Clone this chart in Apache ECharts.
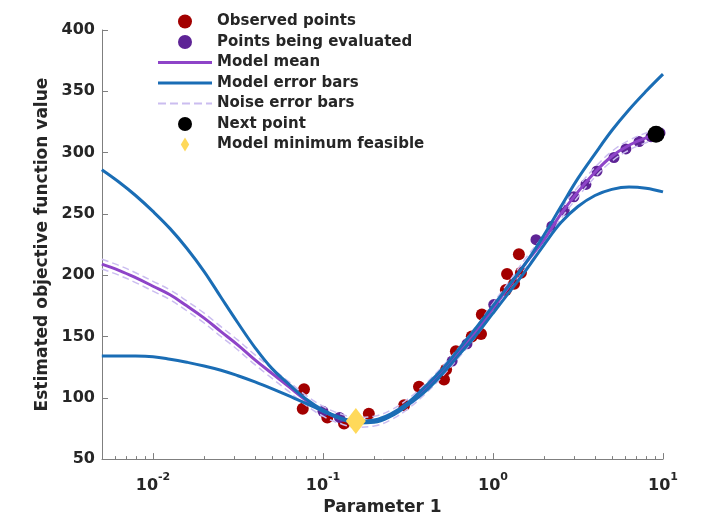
<!DOCTYPE html>
<html>
<head>
<meta charset="utf-8">
<script src="https://cdn.jsdelivr.net/npm/echarts@6/dist/echarts.min.js"></script>
<style>
  html, body { margin: 0; padding: 0; background: #fff; }
  #chart { width: 709px; height: 521px; }
</style>
</head>
<body>
<div id="chart"></div>
<script>
// x grid of the model curves (Parameter 1, log axis)
const curveX = [0.005, 0.0063, 0.0079, 0.01, 0.0126, 0.0158, 0.02, 0.0251, 0.0316, 0.0398,
  0.05, 0.0631, 0.0794, 0.1, 0.126, 0.158, 0.2, 0.251, 0.316, 0.398,
  0.5, 0.631, 0.794, 1, 1.26, 1.58, 2, 2.51, 3.16, 3.98, 5, 6.31, 7.94, 10];
const modelMean = [209, 204, 198, 191, 184, 175, 165, 154, 143, 131,
  120, 109, 98, 89, 83, 80, 81, 86, 95, 107,
  121, 137, 154, 173, 192, 211, 229, 250, 268, 284, 297, 306, 312, 316];
const errUpper = [286, 276, 265, 252, 238, 222, 203, 182, 161, 141,
  124, 111, 99, 90, 84, 81, 82, 87, 96, 109,
  123, 140, 157, 175, 193, 211, 233, 256, 279, 299, 318, 335, 350, 364];
const errLower = [134, 134, 134, 133.5, 131.5, 129, 126, 122.5, 118, 113,
  107.5, 101.5, 95.5, 89, 83, 79.5, 80, 85, 94, 105,
  119, 135, 151, 169, 187, 205, 225, 243, 256, 265, 270, 272, 271, 268];
const noiseUpper = [213, 208, 202, 195, 188, 179, 169, 158, 147, 135,
  124, 113, 102, 93, 87, 84, 85, 90, 99, 111,
  125, 141, 158, 177, 196, 215, 233, 254, 272, 288, 301, 310, 316, 320];
const noiseLower = [205, 200, 194, 187, 180, 171, 161, 150, 139, 127,
  116, 105, 94, 85, 79, 76, 77, 82, 91, 103,
  117, 133, 150, 169, 188, 207, 225, 246, 264, 280, 293, 302, 308, 312];

// observed points
const obsX = [0.0773, 0.076, 0.106, 0.133, 0.186, 0.30, 0.367, 0.515, 0.53, 0.605,
  0.75, 0.85, 0.86, 1.19, 1.21, 1.33, 1.46, 1.42];
const obsY = [107, 91, 84, 79, 87, 94, 109, 115, 123, 138,
  150, 152, 168, 188, 201, 193, 202, 217];

// points being evaluated
const evalX = [0.1, 0.125, 0.575, 0.703, 1.01, 1.79, 2.22, 2.62, 2.99, 3.52,
  4.09, 5.15, 6.05, 7.23, 8.5, 9.6];
const evalY = [89, 84, 130, 144, 176, 229, 240, 253, 264, 274,
  285, 296, 303, 309, 313, 316];

const nextX = [9.1];
const nextY = [315];
const minX = [0.156];
const minY = [81];

// axis ticks
const majorTicks = [-2, -1, 0, 1];   // exponents of 10
const minorTicks = [0.006, 0.007, 0.008, 0.009, 0.02, 0.03, 0.04, 0.05, 0.06, 0.07, 0.08, 0.09,
  0.2, 0.3, 0.4, 0.5, 0.6, 0.7, 0.8, 0.9, 2, 3, 4, 5, 6, 7, 8, 9];

const FONT = '"DejaVu Sans", sans-serif';
const TXT = '#262626';
const AXIS = '#7f7f7f';
const LINE_ICON = 'path://M0,0H54V3H0Z';
const DASH_ICON = 'path://M0,0H8V2H0Z M12,0H20V2H12Z M24,0H32V2H24Z M36,0H44V2H36Z M48,0H54V2H48Z';

function curve(ys) {
  return curveX.map((p, i) => [Math.log10(p), ys[i]]);
}
function pts(xs, ys) {
  return xs.map((p, i) => [Math.log10(p), ys[i]]);
}

const myChart = echarts.init(document.getElementById('chart'));

var option = {
  animation: false,
  legend: {
    orient: 'vertical',
    left: 153,
    top: 9,
    itemWidth: 54,
    itemHeight: 14,
    itemGap: 5.5,
    textStyle: { fontFamily: FONT, fontSize: 15, fontWeight: 'bold', color: TXT },
    data: [
      { name: 'Observed points', icon: 'circle' },
      { name: 'Points being evaluated', icon: 'circle' },
      { name: 'Model mean', icon: LINE_ICON },
      { name: 'Model error bars', icon: LINE_ICON },
      { name: 'Noise error bars', icon: DASH_ICON },
      { name: 'Next point', icon: 'circle' },
      { name: 'Model minimum feasible', icon: 'path://M6,0 L12,10 L6,20 L0,10 Z' }
    ]
  },
  grid: { left: 102, right: 46, top: 30, bottom: 58, containLabel: false },
  xAxis: [
    {
      type: 'value',
      min: -2.3,
      max: 1,
      position: 'bottom',
      name: 'Parameter 1',
      nameLocation: 'middle',
      nameGap: 36,
      nameTextStyle: { fontFamily: FONT, fontSize: 17, fontWeight: 'bold', color: TXT },
      axisLine: { show: true, onZero: false, lineStyle: { color: AXIS, width: 1 } },
      axisTick: { show: true, inside: true, length: 6, customValues: majorTicks, lineStyle: { color: AXIS } },
      axisLabel: {
        customValues: majorTicks,
        margin: 13,
        formatter: function (v) { return '{b|10}{s|' + v + '}'; },
        rich: {
          b: { fontFamily: FONT, fontSize: 16, fontWeight: 'bold', color: TXT, lineHeight: 22, verticalAlign: 'bottom' },
          s: { fontFamily: FONT, fontSize: 11, fontWeight: 'bold', color: TXT, lineHeight: 12, verticalAlign: 'top' }
        }
      },
      splitLine: { show: false }
    },
    {
      type: 'value',
      min: -2.3,
      max: 1,
      position: 'bottom',
      axisLine: { show: false, onZero: false },
      axisTick: { show: true, inside: true, length: 3, customValues: minorTicks.map(Math.log10), lineStyle: { color: AXIS } },
      axisLabel: { show: false },
      splitLine: { show: false }
    }
  ],
  yAxis: {
    type: 'value',
    min: 50,
    max: 400,
    interval: 50,
    name: 'Estimated objective function value',
    nameLocation: 'middle',
    nameGap: 46,
    nameTextStyle: { fontFamily: FONT, fontSize: 17, fontWeight: 'bold', color: TXT },
    axisLine: { show: true, onZero: false, lineStyle: { color: AXIS, width: 1 } },
    axisTick: { show: true, inside: true, length: 6, lineStyle: { color: AXIS } },
    axisLabel: { fontFamily: FONT, fontSize: 16, fontWeight: 'bold', color: TXT, margin: 7 },
    splitLine: { show: false }
  },
  series: [
    {
      name: 'Observed points', type: 'scatter', data: pts(obsX, obsY),
      symbol: 'circle', symbolSize: 12, itemStyle: { color: '#a30000', opacity: 1 }
    },
    {
      name: 'Points being evaluated', type: 'scatter', data: pts(evalX, evalY),
      symbol: 'circle', symbolSize: 11, itemStyle: { color: '#5e2496', opacity: 1 }
    },
    {
      name: 'Noise error bars', type: 'line', data: curve(noiseUpper), symbol: 'none', smooth: 0.4,
      lineStyle: { color: '#cbbdf0', width: 1.5, type: [7, 4] }, itemStyle: { color: '#cbbdf0' }
    },
    {
      name: 'Noise error bars', type: 'line', data: curve(noiseLower), symbol: 'none', smooth: 0.4,
      lineStyle: { color: '#cbbdf0', width: 1.5, type: [7, 4] }, itemStyle: { color: '#cbbdf0' }
    },
    {
      name: 'Model mean', type: 'line', data: curve(modelMean), symbol: 'none', smooth: 0.4,
      lineStyle: { color: '#8e44c8', width: 3 }, itemStyle: { color: '#8e44c8' }
    },
    {
      name: 'Model error bars', type: 'line', data: curve(errUpper), symbol: 'none', smooth: 0.4,
      lineStyle: { color: '#1a6db5', width: 3 }, itemStyle: { color: '#1a6db5' }
    },
    {
      name: 'Model error bars', type: 'line', data: curve(errLower), symbol: 'none', smooth: 0.4,
      lineStyle: { color: '#1a6db5', width: 3 }, itemStyle: { color: '#1a6db5' }
    },
    {
      name: 'Next point', type: 'scatter', data: pts(nextX, nextY), z: 5,
      symbol: 'circle', symbolSize: 17, itemStyle: { color: '#000000', opacity: 1 }
    },
    {
      name: 'Model minimum feasible', type: 'scatter', data: pts(minX, minY), z: 5,
      symbol: 'diamond', symbolSize: [20, 26], itemStyle: { color: '#ffd95a', opacity: 1 }
    }
  ]
};

option && myChart.setOption(option);
</script>
</body>
</html>
